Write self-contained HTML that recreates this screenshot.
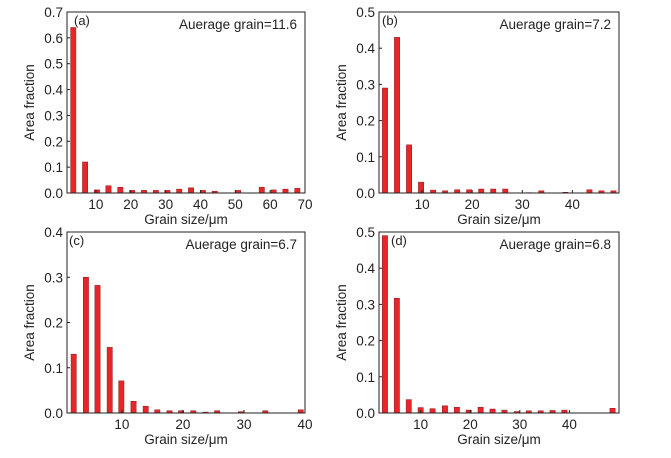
<!DOCTYPE html>
<html><head><meta charset="utf-8"><style>
body{margin:0;background:#fff;width:671px;height:453px;overflow:hidden}
svg{font-family:"Liberation Sans",Arial,sans-serif}
</style></head><body>
<svg id="fig" width="671" height="453"></svg>
<script>
const xA=[3.5,6.9,10.3,13.6,17.0,20.4,23.8,27.2,30.5,33.9,37.3,40.7,44.1,47.5,50.8,54.2,57.6,61.0,64.4,67.8];
const yA=[0.64,0.12,0.012,0.028,0.022,0.01,0.01,0.01,0.01,0.015,0.02,0.01,0.007,0,0.01,0,0.022,0.012,0.015,0.018];
const xB=[2.6,5.0,7.4,9.8,12.2,14.6,17.0,19.4,21.8,24.2,26.6,29.0,31.4,33.8,36.2,38.6,41.0,43.4,45.8,48.2];
const yB=[0.29,0.43,0.133,0.03,0.008,0.006,0.009,0.009,0.011,0.011,0.011,0,0.001,0.006,0,0.002,0,0.009,0.006,0.006];
const xC=[2.1,4.1,6.0,8.0,9.9,11.9,13.9,15.8,17.8,19.7,21.7,23.7,25.6,27.6,29.5,31.5,33.5,35.4,37.4,39.3];
const yC=[0.13,0.30,0.282,0.145,0.071,0.026,0.015,0.007,0.005,0.005,0.005,0.002,0.005,0,0.003,0,0.005,0,0,0.007];
const xD=[2.8,5.2,7.6,10.0,12.4,14.9,17.3,19.7,22.1,24.5,26.9,29.4,31.8,34.2,36.6,39.0,41.4,43.9,46.3,48.7];
const yD=[0.49,0.317,0.037,0.015,0.012,0.02,0.016,0.008,0.016,0.011,0.008,0.004,0.006,0.006,0.007,0.008,0,0,0,0.013];
const xTicksA=[10,20,30,40,50,60,70], yTicksA=[0,0.1,0.2,0.3,0.4,0.5,0.6,0.7];
const xTicksB=[10,20,30,40], yTicksB=[0,0.1,0.2,0.3,0.4,0.5];
const xTicksC=[10,20,30,40], yTicksC=[0,0.1,0.2,0.3,0.4];
const xTicksD=[10,20,30,40], yTicksD=[0,0.1,0.2,0.3,0.4,0.5];
const labels=["(a)","(b)","(c)","(d)"];
const averages=["Auerage grain=11.6","Auerage grain=7.2","Auerage grain=6.7","Auerage grain=6.8"];

const NS="http://www.w3.org/2000/svg", svg=document.getElementById('fig');
function mk(t,a,p){const e=document.createElementNS(NS,t);for(const k in a)e.setAttribute(k,a[k]);(p||svg).appendChild(e);return e;}
const panels=[
 {L:67,R:305,T:12,B:193,x0:1.7,x1:70,y1:0.7,xs:xA,ys:yA,xt:xTicksA,yt:yTicksA,lx:7},
 {L:379,R:619,T:12,B:193,x0:1.4,x1:49.3,y1:0.5,xs:xB,ys:yB,xt:xTicksB,yt:yTicksB,lx:3},
 {L:67,R:305,T:232,B:413,x0:1.0,x1:40,y1:0.4,xs:xC,ys:yC,xt:xTicksC,yt:yTicksC,lx:2},
 {L:379,R:619,T:232,B:413,x0:1.6,x1:50,y1:0.5,xs:xD,ys:yD,xt:xTicksD,yt:yTicksD,lx:12}
];
panels.forEach((p,i)=>{
 const g=mk('g',{});
 
 
 const sx=v=>p.L+(v-p.x0)/(p.x1-p.x0)*(p.R-p.L);
 const sy=v=>p.B-v/p.y1*(p.B-p.T);
 const bw=5.3;
 p.xs.forEach((x,k)=>{
  const v=p.ys[k]; if(v<=0) return;
  const b=mk('rect',{x:sx(x)-bw/2,y:sy(v),width:bw,height:p.B-sy(v),fill:'#e8262a',stroke:'#8a1a1a','stroke-width':0.5},g);
  
  
 });
 const fr=mk('rect',{x:p.L,y:p.T,width:p.R-p.L,height:p.B-p.T,fill:'none',stroke:'#222','stroke-width':1},g);
 
 
 p.xt.forEach(t=>{
  const x=sx(t);
  mk('line',{x1:x,x2:x,y1:p.B,y2:p.B-3,stroke:'#222'},g);
  const tx=mk('text',{x:x,y:p.B+16,'text-anchor':'middle','font-size':13.5,fill:'#222'},g);
  tx.textContent=t;
  
  
 });
 p.yt.forEach(t=>{
  const y=sy(t);
  mk('line',{x1:p.L,x2:p.L+3,y1:y,y2:y,stroke:'#222'},g);
  const tx=mk('text',{x:p.L-4,y:y+5,'text-anchor':'end','font-size':13.5,fill:'#222'},g);
  tx.textContent=t.toFixed(1);
  
  
 });
 const xl=mk('text',{x:(p.L+p.R)/2,y:p.B+31,'text-anchor':'middle','font-size':13.5,fill:'#222'},g);
 xl.textContent='Grain size/μm';
 
 
 const yx=p.L-33, yy=(p.T+p.B)/2;
 const yl=mk('text',{x:yx,y:yy,'text-anchor':'middle','font-size':13.5,fill:'#222',transform:`rotate(-90 ${yx} ${yy})`},g);
 yl.textContent='Area fraction';
 
 
 const pl=mk('text',{x:p.L+p.lx,y:p.T+13,'font-size':13,fill:'#222'},g);
 pl.textContent=labels[i];
 
 
 const av=mk('text',{x:p.R-8,y:p.T+17,'text-anchor':'end','font-size':13.5,fill:'#222'},g);
 av.textContent=averages[i];
 
 
});
</script>
</body></html>
